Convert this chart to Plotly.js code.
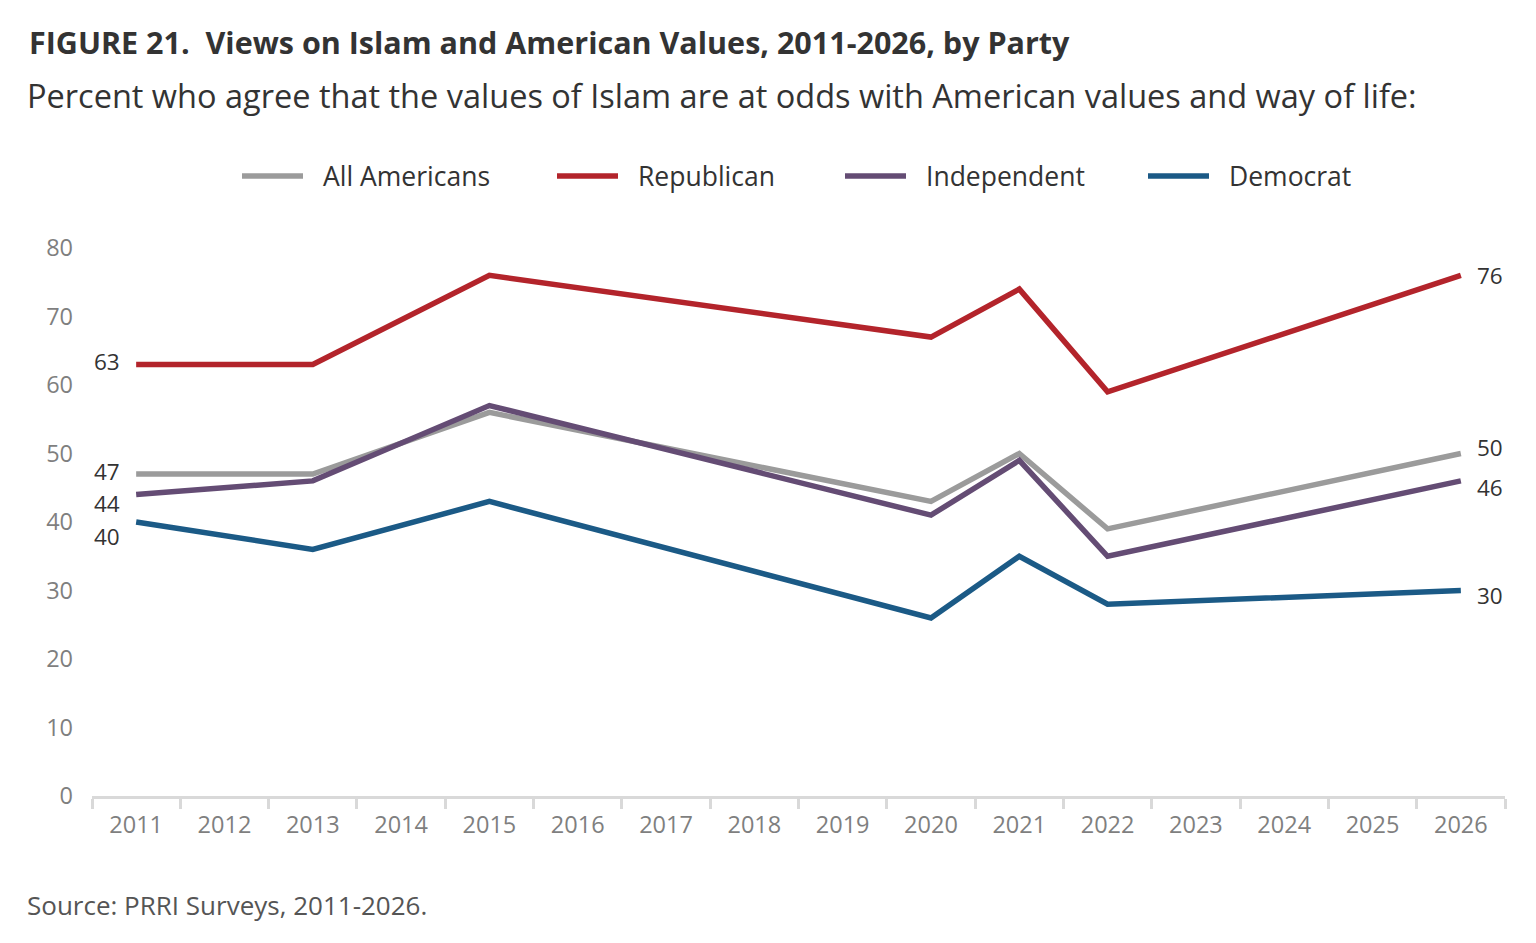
<!DOCTYPE html>
<html>
<head>
<meta charset="utf-8">
<script src="https://cdn.plot.ly/plotly-3.0.1.min.js"></script>
<style>
  html, body { margin: 0; padding: 0; background: #fff; }
  #chart { width: 1536px; height: 943px; }
</style>
</head>
<body>
<div id="chart"></div>
<script>
const years = ['2011','2012','2013','2014','2015','2016','2017','2018','2019','2020','2021','2022','2023','2024','2025','2026'];
const surveyYears = ['2011','2013','2015','2020','2021','2022','2026'];

const allAmericans = [47, 47, 56, 43, 50, 39, 50];
const republican   = [63, 63, 76, 67, 74, 59, 76];
const independent  = [44, 46, 57, 41, 49, 35, 46];
const democrat     = [40, 36, 43, 26, 35, 28, 30];

const seriesNames = ['All Americans', 'Republican', 'Independent', 'Democrat'];
const seriesValues = [allAmericans, republican, independent, democrat];
const colors = ['#9b9b9b', '#b3242b', '#644c74', '#1b5a86'];

const W = 1536, H = 943;
const L = 92, R = 1505, T = 248, B = 796;
const px = x => (x - L) / (R - L);
const py = y => (B - y) / (B - T);

const traces = seriesValues.map((vals, i) => ({
  x: surveyYears,
  y: vals,
  name: seriesNames[i],
  type: 'scatter',
  mode: 'lines',
  line: {color: colors[i], width: 5.5},
  showlegend: false,
  hoverinfo: 'x+y+name'
}));

// offsets for end labels so they don't collide
const leftShift = [3, 3, -9, -14];
const rightShift = [6, 0, -7, -5];

// category annotations need the index, a string like '2011' is read as a number
const catIndex = yr => years.indexOf(yr);

const annotations = [];
seriesValues.forEach((vals, i) => {
  const last = vals.length - 1;
  annotations.push({
    x: catIndex(surveyYears[0]), y: vals[0], xref: 'x', yref: 'y',
    text: String(vals[0]), showarrow: false,
    xanchor: 'right', xshift: -14, yshift: leftShift[i],
    font: {family: 'Open Sans', size: 22.5, color: '#333333'}
  });
  annotations.push({
    x: catIndex(surveyYears[last]), y: vals[last], xref: 'x', yref: 'y',
    text: String(vals[last]), showarrow: false,
    xanchor: 'left', xshift: 14, yshift: rightShift[i],
    font: {family: 'Open Sans', size: 22.5, color: '#333333'}
  });
});

// title, subtitle, source
annotations.push({
  xref: 'paper', yref: 'paper', x: px(27), y: py(42), xanchor: 'left', yanchor: 'middle',
  text: '<b>FIGURE 21.  Views on Islam and American Values, 2011-2026, by Party</b>',
  showarrow: false, font: {family: 'Open Sans', size: 30.5, color: '#333333'}
});
annotations.push({
  xref: 'paper', yref: 'paper', x: px(25), y: py(95), xanchor: 'left', yanchor: 'middle',
  text: 'Percent who agree that the values of Islam are at odds with American values and way of life:',
  showarrow: false, font: {family: 'Open Sans', size: 32.5, color: '#333333'}
});
annotations.push({
  xref: 'paper', yref: 'paper', x: px(25), y: py(905), xanchor: 'left', yanchor: 'middle',
  text: 'Source: PRRI Surveys, 2011-2026.',
  showarrow: false, font: {family: 'Open Sans', size: 26, color: '#555555'}
});

// legend drawn by hand so the swatches are long like the original
const legendSwatchX = [242, 557, 845, 1148];
const legendY = 176;
const shapes = [];
seriesNames.forEach((name, i) => {
  shapes.push({
    type: 'line', xref: 'paper', yref: 'paper',
    x0: px(legendSwatchX[i]), x1: px(legendSwatchX[i] + 61),
    y0: py(legendY), y1: py(legendY),
    line: {color: colors[i], width: 5.5}
  });
  annotations.push({
    xref: 'paper', yref: 'paper', x: px(legendSwatchX[i] + 79), y: py(legendY),
    xanchor: 'left', yanchor: 'middle', text: name, showarrow: false,
    font: {family: 'Open Sans', size: 26.5, color: '#333333'}
  });
});

const layout = {
  width: W, height: H,
  margin: {l: L, r: W - R, t: T, b: H - B, pad: 0},
  paper_bgcolor: '#ffffff',
  plot_bgcolor: '#ffffff',
  font: {family: 'Open Sans', color: '#333333'},
  xaxis: {
    type: 'category',
    categoryorder: 'array',
    categoryarray: years,
    range: [-0.5, years.length - 0.5],
    tickson: 'boundaries',
    ticks: 'outside',
    ticklen: 10,
    tickwidth: 3,
    tickcolor: '#d9d9d9',
    showline: true,
    linecolor: '#d9d9d9',
    linewidth: 3,
    showgrid: false,
    zeroline: false,
    ticklabelstandoff: 6,
    tickfont: {family: 'Open Sans', size: 23.5, color: '#7f7f7f'},
    fixedrange: true
  },
  yaxis: {
    range: [0, 80],
    dtick: 10,
    showgrid: false,
    zeroline: false,
    showline: false,
    ticks: '',
    ticklabelstandoff: 18,
    tickfont: {family: 'Open Sans', size: 23.5, color: '#7f7f7f'},
    fixedrange: true
  },
  annotations: annotations,
  shapes: shapes
};

Plotly.newPlot('chart', traces, layout, {displayModeBar: false, staticPlot: true});
</script>
</body>
</html>
